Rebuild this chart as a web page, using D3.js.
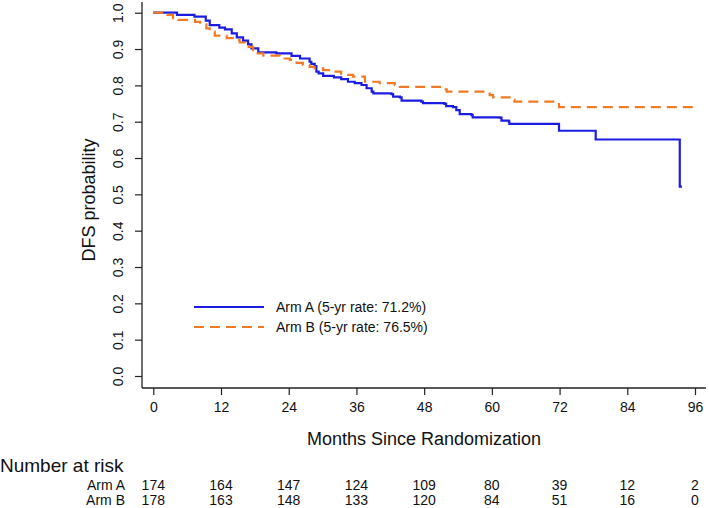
<!DOCTYPE html>
<html>
<head>
<meta charset="utf-8">
<script src="https://cdn.jsdelivr.net/npm/d3@7"></script>
<style>
  html, body { margin: 0; padding: 0; background: #fff; }
  svg { display: block; }
  text { font-family: "Liberation Sans", Arial, sans-serif; fill: #111; }
  .narrow { font-family: "Liberation Sans Narrow", "Arial Narrow", "Liberation Sans", sans-serif; }
</style>
</head>
<body>
<svg id="chart" width="709" height="508"></svg>
<script>
// ---- data ----
const xTicks = [0, 12, 24, 36, 48, 60, 72, 84, 96];
const yTicks = [0, 0.1, 0.2, 0.3, 0.4, 0.5, 0.6, 0.7, 0.8, 0.9, 1.0];

const armATimes = [0, 4.2, 7.3, 9.3, 10.0, 11.7, 12.7, 13.9, 14.8, 15.9, 16.8, 17.4, 18.6, 21.8, 24.5, 26.0, 27.7, 28.0, 28.6, 28.9, 29.3, 30.1, 32.0, 33.3, 34.5, 35.7, 36.9, 37.8, 38.7, 39.0, 42.2, 42.5, 43.7, 44.0, 47.5, 47.8, 51.6, 51.9, 53.1, 53.7, 54.3, 56.4, 56.6, 61.4, 61.7, 63.0, 63.1, 71.9, 78.4, 93.3];
const armASurv  = [1.0, 0.994, 0.989, 0.978, 0.966, 0.959, 0.954, 0.943, 0.932, 0.923, 0.913, 0.902, 0.891, 0.888, 0.881, 0.874, 0.865, 0.859, 0.853, 0.838, 0.833, 0.826, 0.822, 0.817, 0.810, 0.806, 0.801, 0.792, 0.783, 0.778, 0.776, 0.769, 0.767, 0.758, 0.755, 0.751, 0.749, 0.743, 0.740, 0.732, 0.721, 0.718, 0.712, 0.711, 0.703, 0.700, 0.694, 0.675, 0.651, 0.521];
const armAEnd = 93.7;

const armBTimes = [0, 2.5, 3.5, 4.4, 7.4, 8.3, 9.4, 10.0, 10.9, 13.0, 14.3, 15.3, 16.3, 16.9, 17.7, 18.3, 19.5, 22.4, 24.2, 25.4, 26.5, 27.7, 28.6, 30.1, 31.5, 33.3, 35.4, 37.5, 40.1, 42.8, 43.7, 50.8, 52.0, 59.6, 60.2, 63.7, 64.0, 71.9];
const armBSurv  = [1.0, 0.994, 0.985, 0.980, 0.975, 0.968, 0.957, 0.948, 0.937, 0.930, 0.925, 0.918, 0.911, 0.906, 0.897, 0.888, 0.882, 0.874, 0.870, 0.862, 0.856, 0.851, 0.847, 0.842, 0.838, 0.829, 0.824, 0.810, 0.806, 0.801, 0.796, 0.789, 0.783, 0.773, 0.767, 0.760, 0.755, 0.740];
const armBEnd = 95.6;

const legendLabels = ["Arm A (5-yr rate: 71.2%)", "Arm B (5-yr rate: 76.5%)"];
const riskRows = ["Arm A", "Arm B"];
const riskArmA = [174, 164, 147, 124, 109, 80, 39, 12, 2];
const riskArmB = [178, 163, 148, 133, 120, 84, 51, 16, 0];

// ---- layout ----
const colA = "#1c1ce0";
const colB = "#f07a26";
const svg = d3.select("#chart");

const x = d3.scaleLinear().domain([0, 96]).range([153.3, 695]);
const y = d3.scaleLinear().domain([0, 1]).range([376, 12.7]);
const axX = 142, axY = 388;

// axis lines (L box)
svg.append("line").attr("x1", axX).attr("x2", axX).attr("y1", 2).attr("y2", axY)
  .attr("stroke", "#222").attr("stroke-width", 1.3);
svg.append("line").attr("x1", axX).attr("x2", 706).attr("y1", axY).attr("y2", axY)
  .attr("stroke", "#222").attr("stroke-width", 1.3);

// y axis
const gy = svg.append("g").attr("transform", `translate(${axX},0)`)
  .call(d3.axisLeft(y).tickValues(yTicks).tickFormat(d3.format(".1f")).tickSize(7).tickSizeOuter(0));
gy.select(".domain").remove();
gy.selectAll(".tick line").attr("stroke", "#222").attr("stroke-width", 1.2);
gy.selectAll(".tick text")
  .attr("transform", "rotate(-90)")
  .attr("x", 0).attr("y", -19).attr("dy", 0)
  .attr("text-anchor", "middle")
  .style("font-size", "14px").style("font-family", '"Liberation Sans", Arial, sans-serif').attr("fill", "#111");

// x axis
const gx = svg.append("g").attr("transform", `translate(0,${axY})`)
  .call(d3.axisBottom(x).tickValues(xTicks).tickSize(7).tickSizeOuter(0));
gx.select(".domain").remove();
gx.selectAll(".tick line").attr("stroke", "#222").attr("stroke-width", 1.2);
gx.selectAll(".tick text")
  .attr("y", 14).attr("dy", "0.71em")
  .style("font-size", "14px").style("font-family", '"Liberation Sans", Arial, sans-serif').attr("fill", "#111");

// axis titles
svg.append("text").attr("transform", "translate(95,200) rotate(-90)")
  .attr("text-anchor", "middle").style("font-size", "18px").text("DFS probability");
svg.append("text").attr("x", 424).attr("y", 445)
  .attr("text-anchor", "middle").style("font-size", "18px").text("Months Since Randomization");

// curves
function stepData(times, surv, end) {
  const pts = times.map((t, i) => [t, surv[i]]);
  pts.push([end, surv[surv.length - 1]]);
  return pts;
}
const line = d3.line().x(d => x(d[0])).y(d => y(d[1])).curve(d3.curveStepAfter);

svg.append("path").datum(stepData(armATimes, armASurv, armAEnd))
  .attr("d", line).attr("fill", "none").attr("stroke", colA).attr("stroke-width", 2.2);
svg.append("path").datum(stepData(armBTimes, armBSurv, armBEnd))
  .attr("d", line).attr("fill", "none").attr("stroke", colB).attr("stroke-width", 2.2)
  .attr("stroke-dasharray", "10,6");

// legend
const lg = svg.append("g");
const legendColors = [colA, colB];
legendLabels.forEach((lab, i) => {
  const yy = 307 + i * 20;
  lg.append("line").attr("x1", 194).attr("x2", 264).attr("y1", yy).attr("y2", yy)
    .attr("stroke", legendColors[i]).attr("stroke-width", 2.2)
    .attr("stroke-dasharray", i === 1 ? "10,6" : null);
  lg.append("text").attr("x", 276).attr("y", yy + 5).style("font-size", "14px").text(lab);
});

// risk table
svg.append("text").attr("class", "narrow").attr("x", 0).attr("y", 472)
  .style("font-size", "19px").text("Number at risk");
const riskData = [riskArmA, riskArmB];
riskRows.forEach((r, i) => {
  const yy = 490 + i * 14.5;
  svg.append("text").attr("class", "narrow").attr("x", 125).attr("y", yy)
    .attr("text-anchor", "end").style("font-size", "14px").text(r);
  svg.selectAll(null).data(riskData[i]).enter().append("text")
    .attr("class", "narrow")
    .attr("x", (d, j) => x(xTicks[j]))
    .attr("y", yy).attr("text-anchor", "middle").style("font-size", "14px")
    .text(d => d);
});
</script>
</body>
</html>
